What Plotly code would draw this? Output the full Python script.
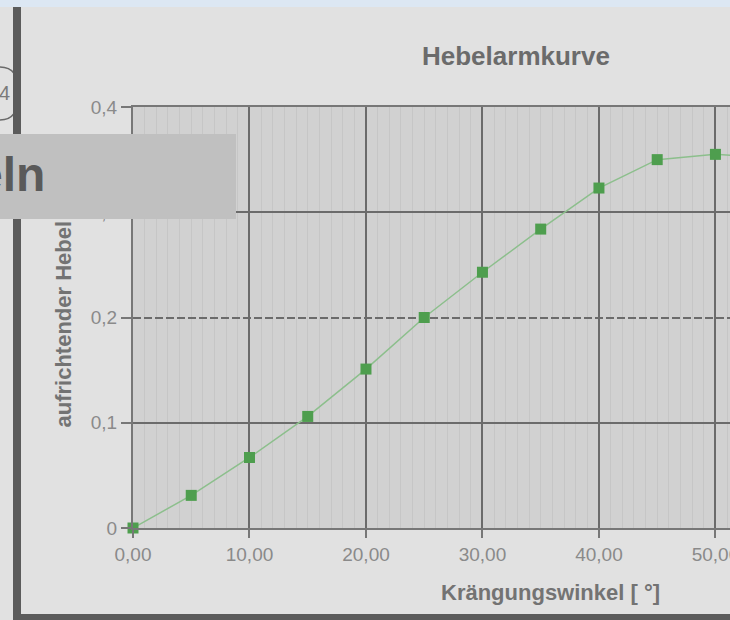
import plotly.graph_objects as go

# ---------------- data ----------------
angles = [0, 5, 10, 15, 20, 25, 30, 35, 40, 45, 50, 55]
lever = [0.0, 0.031, 0.067, 0.106, 0.151, 0.200, 0.243, 0.284, 0.323, 0.350, 0.355, 0.352]
x_tick_vals = [0, 10, 20, 30, 40, 50]
y_tick_vals = [0, 0.1, 0.2, 0.3, 0.4]
y_tick_text = ["0", "0,1", "0,2", "0,3", "0,4"]
solid_grid_vals = [0.1, 0.3, 0.4]
dashed_grid_vals = [0.2]

chart_title = "Hebelarmkurve"
x_title = "Krängungswinkel [ °]"
y_title = "aufrichtender Hebel [m]"

# ---------------- geometry helpers ----------------
W, H = 730, 620
L, R, T, B = 133, 0, 107, 92
PW, PH = W - L - R, H - T - B


def px(x):
    return (x - L) / PW


def py(y):
    return (H - B - y) / PH


FONT = "Liberation Sans, Arial, sans-serif"
GRID = "#6b6b6b"
AXIS = "#777777"
TICKF = dict(family=FONT, size=19, color="#8a8a8a")

fig = go.Figure()
fig.add_trace(go.Scatter(
    x=angles, y=lever, mode="lines+markers",
    line=dict(color="#8cbf8c", width=1.5),
    marker=dict(symbol="square", size=11, color="#4e9e4e"),
    cliponaxis=False, showlegend=False,
))
fig.add_trace(go.Scatter(x=[], y=[], yaxis="y2", showlegend=False, hoverinfo="skip"))
fig.add_trace(go.Scatter(x=[], y=[], yaxis="y3", showlegend=False, hoverinfo="skip"))

fig.update_layout(
    width=W, height=H, autosize=False,
    margin=dict(l=L, r=R, t=T, b=B, pad=0),
    paper_bgcolor="#e1e1e1",
    plot_bgcolor="#d1d1d1",
    separators=", ",
    font=dict(family=FONT),
    xaxis=dict(
        range=[0, 51.25], tickvals=x_tick_vals, tickformat=".2f",
        showgrid=True, gridcolor=GRID, gridwidth=2,
        showline=True, linecolor=AXIS, linewidth=2, mirror=True,
        ticks="outside", ticklen=8, tickcolor=AXIS, tickwidth=2,
        tickfont=TICKF, zeroline=False, ticklabeloverflow="allow",
        automargin=False,
        minor=dict(dtick=1, showgrid=True, gridcolor="#c6c6c6", gridwidth=1),
    ),
    yaxis=dict(
        range=[0, 0.4], tickvals=y_tick_vals, ticktext=y_tick_text,
        showgrid=False, showline=True, linecolor=AXIS, linewidth=2,
        ticks="outside", ticklen=10, tickcolor=AXIS, tickwidth=2,
        tickfont=TICKF, zeroline=False, ticklabeloverflow="allow",
        automargin=False,
    ),
    yaxis2=dict(
        overlaying="y", range=[0, 0.4], tickvals=solid_grid_vals,
        showticklabels=False, ticks="", showgrid=True, gridcolor=GRID,
        gridwidth=2, showline=False, zeroline=False, automargin=False,
    ),
    yaxis3=dict(
        overlaying="y", range=[0, 0.4], tickvals=dashed_grid_vals,
        showticklabels=False, ticks="", showgrid=True, gridcolor=GRID,
        gridwidth=2, griddash="8px,3px", showline=False, zeroline=False,
        automargin=False,
    ),
)

# decorative frame of the screenshot
shapes = [
    dict(type="rect", xref="paper", yref="paper", x0=px(0), x1=px(W), y0=py(0), y1=py(7),
         fillcolor="#dce7f3", line=dict(width=0), layer="above"),
    dict(type="path", xref="paper", yref="paper",
         path=f"M {px(-60)},{py(67)} L {px(0)},{py(67)} Q {px(19)},{py(67)} {px(19)},{py(93)} "
              f"Q {px(19)},{py(120)} {px(0)},{py(120)} L {px(-60)},{py(120)}",
         line=dict(color="#6a6a6a", width=1.5), layer="above"),
    dict(type="rect", xref="paper", yref="paper", x0=px(13), x1=px(21), y0=py(7), y1=py(H),
         fillcolor="#5b5b5b", line=dict(width=0), layer="above"),
    dict(type="rect", xref="paper", yref="paper", x0=px(13), x1=px(W), y0=py(614), y1=py(H),
         fillcolor="#5b5b5b", line=dict(width=0), layer="above"),
]
fig.update_layout(shapes=shapes)

annotations = [
    dict(text=chart_title, xref="paper", yref="paper", x=px(516), y=py(56),
         xanchor="center", yanchor="middle", showarrow=False,
         font=dict(family=FONT, size=26, color="#6b6b6b", weight="bold")),
    dict(text=x_title, xref="paper", yref="paper", x=px(550), y=py(592),
         xanchor="center", yanchor="middle", showarrow=False,
         font=dict(family=FONT, size=22, color="#737373", weight="bold")),
    dict(text=y_title, xref="paper", yref="paper", x=px(63), y=py(430),
         xanchor="center", yanchor="bottom", textangle=-90, showarrow=False,
         font=dict(family=FONT, size=22, color="#737373", weight="bold")),
    dict(text="4", xref="paper", yref="paper", x=px(12), y=py(93),
         xanchor="right", yanchor="middle", showarrow=False,
         font=dict(family=FONT, size=20, color="#7a7a7a")),
    dict(text=" ", xref="paper", yref="paper", x=px(0), y=py(134),
         xanchor="left", yanchor="top", showarrow=False, width=236, height=85,
         bgcolor="#c0c0c0", borderpad=0, borderwidth=0),
    dict(text="eln", xref="paper", yref="paper", x=px(47), y=py(174),
         xanchor="right", yanchor="middle", showarrow=False,
         font=dict(family=FONT, size=48, color="#5a5a5a", weight="bold")),
]
fig.update_layout(annotations=annotations)

fig.write_html(
    "out.html",
    config={"displayModeBar": False, "responsive": False},
    post_script="document.body.style.margin='0px';document.body.style.overflow='hidden';",
)
